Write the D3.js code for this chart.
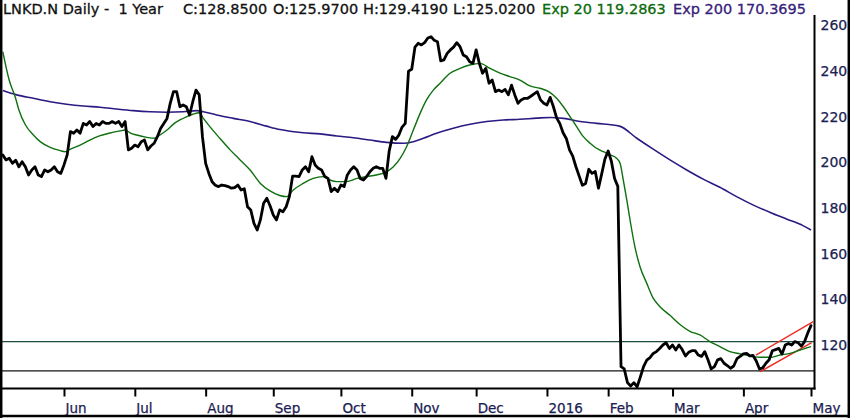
<!DOCTYPE html>
<html>
<head>
<meta charset="utf-8">
<script src="https://cdn.jsdelivr.net/npm/d3@7/dist/d3.min.js"></script>
<style>
  html, body { margin: 0; padding: 0; background: #fff; }
  svg { display: block; }
  text { font-family: "DejaVu Sans", Verdana, sans-serif; white-space: pre; }
</style>
</head>
<body>
<svg id="chart" width="850" height="418"></svg>
<script>
// ---------- DATA ----------
const monthLabels   = ["Jun","Jul","Aug","Sep","Oct","Nov","Dec","2016","Feb","Mar","Apr","May"];
const monthStartDay = [19, 41, 63, 84, 105, 127, 147, 169, 188, 208, 230, 251]; // trading-day index
const yTicks = [120, 140, 160, 180, 200, 220, 240, 260];

// daily close, trading days 4 May 2015 .. 2 May 2016
const closes = [
 203.3,201.1,201.8,199.6,201.0,198.1,200.3,198.1,194.5,196.7,
 198.1,194.5,193.8,196.7,195.9,196.7,198.1,195.9,195.2,198.9,
 203.3,213.5,212.8,214.2,212.8,217.1,216.4,217.9,215.7,217.1,
 216.4,217.9,217.1,217.1,217.9,217.1,217.9,215.7,217.9,205.5,
 206.2,207.6,206.9,209.1,209.8,205.5,207.2,208.4,211.3,214.9,
 217.1,219.3,225.9,231.0,231.0,224.4,225.2,224.4,220.8,226.6,
 231.7,229.6,211.3,199.6,195.2,191.5,190.0,189.4,190.1,189.8,
 189.4,188.7,189.0,190.1,187.9,188.5,180.6,179.2,173.3,170.4,
 174.8,182.1,184.3,181.0,177.0,174.8,179.2,178.4,180.6,185.0,
 194.0,194.0,193.8,196.7,198.1,195.9,202.5,198.9,197.4,196.7,
 193.8,193.0,187.2,188.7,187.2,190.1,189.4,194.5,196.7,198.1,
 196.7,193.0,192.3,193.8,195.9,197.4,198.1,197.4,197.4,193.0,
 205.0,211.3,210.1,212.0,215.5,217.1,240.0,240.8,250.5,252.2,
 251.5,252.5,254.5,255.1,253.5,252.9,244.5,244.9,247.8,249.3,
 250.5,252.5,250.7,247.1,246.3,244.1,243.4,249.3,243.4,239.1,
 241.2,234.7,236.1,231.0,231.7,231.0,232.0,229.6,233.9,229.6,
 225.9,227.4,228.1,228.1,229.0,230.0,231.0,227.4,225.9,225.2,
 228.5,224.4,219.5,217.0,213.0,210.5,205.5,202.8,198.1,194.0,
 190.0,190.8,197.0,195.2,196.0,188.7,195.0,201.5,205.0,200.5,
 193.0,189.5,110.5,109.5,103.5,102.0,103.5,101.7,106.0,110.5,
 113.4,114.5,116.3,117.1,118.5,120.0,121.0,118.5,120.0,117.8,
 120.0,118.0,115.2,116.8,117.5,117.5,115.6,115.0,117.1,113.5,
 109.5,110.5,113.5,114.0,112.0,111.0,109.8,110.8,114.0,115.0,
 116.1,116.3,115.2,115.4,113.0,109.5,110.0,112.0,113.5,117.5,
 118.0,118.5,116.0,120.0,120.7,120.0,121.5,121.0,119.5,121.5,
 125.3,128.5
];

// Exp 20 (read at sample days)
const ema20Day = [0,2,4,5,7,9.5,11.6,14.7,17.8,19.3,21,24,27,30,33,36.4,38,39.5,41.6,44.7,
 47.3,48.8,51,53,55,57,59,61,62.3,64.3,67.4,70.6,73.7,76.8,80,83,86,88.2,90.2,93.3,
 96.4,99.5,101.6,103.7,106.8,110,113,116,119.2,121.3,123.4,125.4,127.5,129.6,131.6,133.7,135.8,138.9,142,145,
 148.2,151.3,154.4,157.5,160.6,163.7,166.8,169.9,172,174.1,176.2,178.2,180.3,182.4,184.4,186.5,188.6,190.6,191.7,192.7,
 193.8,194.8,196.3,197.9,200,202,204.1,207.2,210.3,213.4,216.5,219.6,222.7,225.8,229,232.1,235.2,238.3,241.4,244.5,
 247.6,251];
const ema20 = [248.5,236,228,223,216.5,212,209.1,206.6,205.2,204.7,205.8,207.6,209.8,211.6,212.8,213.8,214.2,213,212,211,
 210.6,212,214.2,216.8,218.6,220,221.1,221.8,219.3,215.7,210.6,205.5,201.1,196.7,190.8,187.5,185.5,185,187.9,190.8,
 193,193.8,192.3,191.6,191.6,193,193.8,194.5,195.9,198.1,201.8,206.9,214.2,221.5,227.4,231.7,234.7,239.1,241.2,242.7,
 243.4,241.2,239.1,237.6,236.1,233.5,232.5,230.7,228.1,224.4,220,215.7,211.3,208.4,206.2,204.7,203.3,201.8,199.6,192.3,
 183.5,174.8,163.1,154.3,147,140.5,136.8,133,129,126,124.4,121.5,119.3,117.1,116.1,115.2,114.6,114.6,115.6,116.3,
 117.8,119.3];

// Exp 200 (read at sample days)
const ema200Day = [0,4.3,9.5,14.7,19.8,25,30.2,35.4,40.5,45.7,50.9,56.1,60.2,62.3,66.4,71.6,76.8,81.9,86.1,93.3,
 98.5,103.7,108.9,114,119.2,124.4,127.5,130.6,134.7,139.9,145.1,150.3,155.4,160.6,165.8,170,174.1,179.3,184.4,191.5,
 196.9,202,207.2,212.4,217.5,222.7,227.9,233.1,238.3,243.4,248.5,251];
const ema200 = [231.5,229.6,228.1,226.6,225.5,224.7,224.2,223.4,222.7,222.2,222.0,222.2,222.7,222.2,220.8,219.3,217.9,215.9,214.4,213,
 212.5,211.6,210.8,209.8,208.8,208.4,209.1,210.6,212.8,215,216.7,217.9,218.6,218.9,219.4,219.7,219.3,217.9,217.1,215.9,
 210.6,205.8,201.1,196.7,192.7,189.1,185.0,181.3,178.1,175.2,172.3,170.4];

// horizontal levels and the rising channel
const levelValues  = [121.45, 108.7];
const channelDay   = [233.9, 251.7];
const channelUpper = [115.6, 130.2];
const channelLowerDay = [235.2, 251.2];
const channelLower = [108.3, 121.0];

// header texts
const headerParts = [
  {t: "LNKD.N Daily -  1 Year", x: 3,   c: "#111111"},
  {t: "C:128.8500",             x: 183, c: "#111111"},
  {t: "O:125.9700",             x: 273, c: "#111111"},
  {t: "H:129.4190",             x: 363, c: "#111111"},
  {t: "L:125.0200",             x: 453, c: "#111111"},
  {t: "Exp 20 119.2863",        x: 542, c: "#0b6a0b"},
  {t: "Exp 200 170.3695",       x: 673, c: "#37207a"}
];

// ---------- DRAW ----------
const W = 850, H = 418;
const svg = d3.select("#chart");
const x = d3.scaleLinear().domain([0, 251]).range([2.8, 811]);
const y = d3.scaleLinear().domain([120, 260]).range([345, 25.5]);
const axisX = 814.5, axisY = 388.5, plotTop = 15;

// level lines
svg.selectAll("line.level").data(levelValues).join("line")
  .attr("class", "level")
  .attr("x1", 2).attr("x2", axisX)
  .attr("y1", d => y(d)).attr("y2", d => y(d))
  .attr("stroke", (d, i) => i === 0 ? "#1f4a40" : "#151515")
  .attr("stroke-width", 1.3);

// channel lines
const chan = [
  channelDay.map((d, i) => [d, channelUpper[i]]),
  channelLowerDay.map((d, i) => [d, channelLower[i]])
];
svg.selectAll("line.chan").data(chan).join("line")
  .attr("class", "chan")
  .attr("x1", d => x(d[0][0])).attr("y1", d => y(d[0][1]))
  .attr("x2", d => x(d[1][0])).attr("y2", d => y(d[1][1]))
  .attr("stroke", "#ee2a1e").attr("stroke-width", 1.4);

// EMA 200
svg.append("path")
  .datum(ema200Day.map((d, i) => [d, ema200[i]]))
  .attr("d", d3.line().x(d => x(d[0])).y(d => y(d[1])).curve(d3.curveMonotoneX))
  .attr("fill", "none").attr("stroke", "#2a1a82").attr("stroke-width", 1.6);

// EMA 20
svg.append("path")
  .datum(ema20Day.map((d, i) => [d, ema20[i]]))
  .attr("d", d3.line().x(d => x(d[0])).y(d => y(d[1])).curve(d3.curveMonotoneX))
  .attr("fill", "none").attr("stroke", "#0e700e").attr("stroke-width", 1.4);

// price
svg.append("path")
  .datum(closes.map((v, i) => [i, v]))
  .attr("d", d3.line().x(d => x(d[0])).y(d => y(d[1])))
  .attr("fill", "none").attr("stroke", "#000").attr("stroke-width", 2.8)
  .attr("stroke-linejoin", "round").attr("stroke-linecap", "round");

// bottom axis
const gx = svg.append("g").attr("transform", `translate(0,${axisY})`)
  .call(d3.axisBottom(x).tickValues(monthStartDay)
        .tickFormat((d, i) => monthLabels[i]).tickSize(8).tickSizeOuter(0));
gx.select(".domain").remove();
gx.selectAll(".tick line").attr("stroke", "#000").attr("stroke-width", 2);
gx.selectAll(".tick text")
  .attr("y", 24).attr("dy", 0).attr("x", 1)
  .attr("text-anchor", "start")
  .attr("fill", "#1b2152")
  .attr("stroke", "#1b2152").attr("stroke-width", 0.25)
  .style("font-size", "13.5px");

// right axis
const gy = svg.append("g").attr("transform", `translate(${axisX},0)`)
  .call(d3.axisRight(y).tickValues(yTicks).tickSize(0).tickPadding(6));
gy.select(".domain").remove();
gy.selectAll(".tick text").attr("fill", "#1b2152")
  .attr("stroke", "#1b2152").attr("stroke-width", 0.25)
  .style("font-size", "14px");

// axis lines & frame
svg.append("line").attr("x1", axisX).attr("x2", axisX).attr("y1", plotTop).attr("y2", axisY + 1)
  .attr("stroke", "#000").attr("stroke-width", 2);
svg.append("line").attr("x1", 0).attr("x2", axisX + 1).attr("y1", axisY).attr("y2", axisY)
  .attr("stroke", "#000").attr("stroke-width", 2);
svg.append("line").attr("x1", 1.2).attr("x2", 1.2).attr("y1", 0).attr("y2", H)
  .attr("stroke", "#000").attr("stroke-width", 2.5);
svg.append("line").attr("x1", 848.8).attr("x2", 848.8).attr("y1", 0).attr("y2", H)
  .attr("stroke", "#000").attr("stroke-width", 2.5);
svg.append("line").attr("x1", 0).attr("x2", W).attr("y1", 416).attr("y2", 416)
  .attr("stroke", "#000").attr("stroke-width", 2.5);

// header
svg.selectAll("text.hdr").data(headerParts).join("text")
  .attr("class", "hdr")
  .attr("x", d => d.x).attr("y", 13.5)
  .attr("fill", d => d.c)
  .attr("stroke", d => d.c).attr("stroke-width", 0.3)
  .style("font-size", "14.5px")
  .text(d => d.t);
</script>
</body>
</html>
